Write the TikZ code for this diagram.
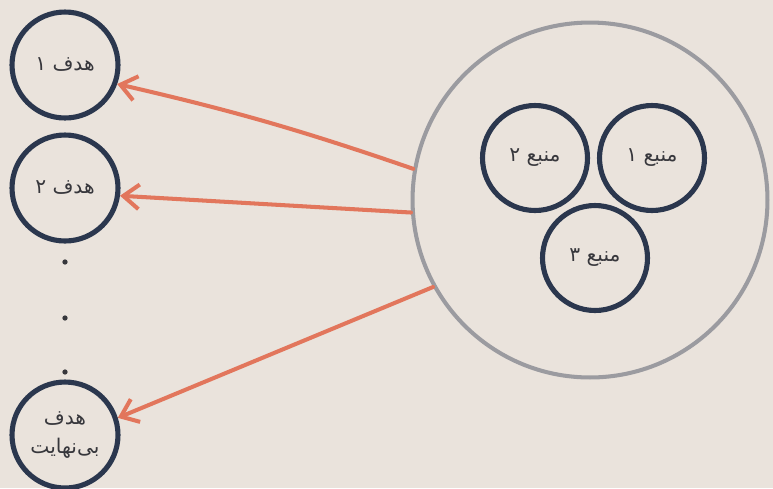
\documentclass[tikz,border=0pt]{standalone}
\usepackage{fontspec}
\newfontfamily\arabicfont[Script=Arabic]{DejaVu Sans}
\TeXXeTstate=1
\usetikzlibrary{arrows.meta, positioning}
\definecolor{paper}{RGB}{234, 227, 220}
\definecolor{ink}{RGB}{43, 55, 78}
\definecolor{ring}{RGB}{155, 155, 160}
\definecolor{coral}{RGB}{226, 118, 92}
\definecolor{label}{RGB}{55, 55, 60}

\begin{document}
\begin{tikzpicture}[
    x=0.02cm, y=-0.02cm,
    every node/.style={font=\arabicfont\fontsize{11.5}{16}\selectfont, text=label, align=center},
    target/.style={draw=ink, circle, line width=2.9pt, minimum size=2.12cm, inner sep=0pt},
    source/.style={draw=ink, circle, line width=2.9pt, minimum size=2.1cm, inner sep=0pt},
    pool/.style={draw=ring, circle, line width=2.3pt, minimum size=7.1cm, inner sep=0pt},
    dot/.style={fill=label, circle, inner sep=0pt, minimum size=3pt},
    link/.style={draw=coral, line width=2.3pt, line cap=round,
        -{Straight Barb[length=9pt, width=14pt, line width=2.3pt]}}
]
    \useasboundingbox (0,0) rectangle (773,488);
    \fill[paper] (0,0) rectangle (773,488);

    % Targets
    \node[target] (t1) at (65,65) {\beginR هدف ۱\endR};
    \node[target] (t2) at (65,188) {\beginR هدف ۲\endR};
    \node[dot] (d1) at (65,262) {};
    \node[dot] (d2) at (65,318) {};
    \node[dot] (d3) at (65,372) {};
    \node[target] (tinf) at (65,435) {\beginR هدف\endR\\\beginR بی‌نهایت\endR};

    % Sources
    \node[pool] (pool) at (590,200) {};
    \node[source] (s1) at (652,158) {\beginR منبع ۱\endR};
    \node[source] (s2) at (535,158) {\beginR منبع ۲\endR};
    \node[source] (s3) at (595,258) {\beginR منبع ۳\endR};

    % Connections
    \draw[link] (pool.170) to[bend right=3] (t1.-20);
    \draw[link] (pool.184) -- (t2.-8);
    \draw[link] (pool.209) -- (tinf.18);
\end{tikzpicture}
\end{document}
